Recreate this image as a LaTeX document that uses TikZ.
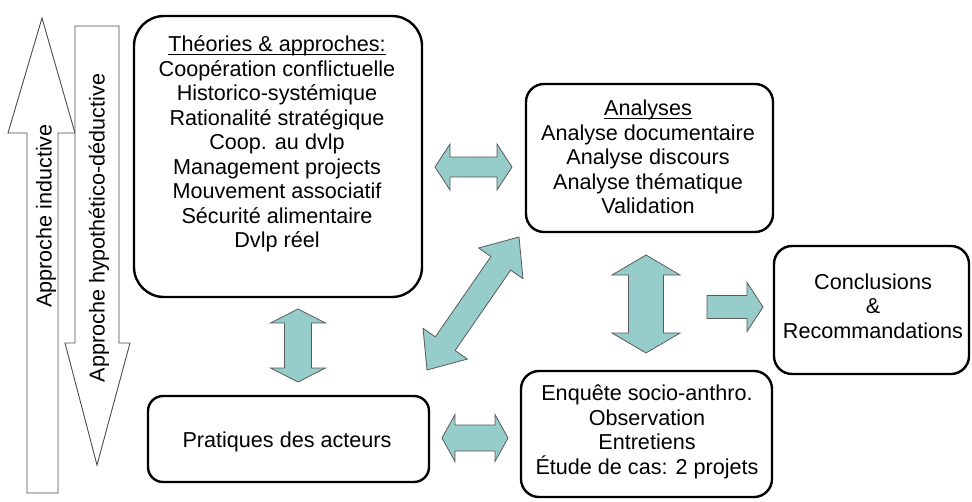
\documentclass[tikz,border=0pt]{standalone}
\usepackage{fontspec}
\setmainfont{Liberation Sans}
\usetikzlibrary{calc}
\definecolor{tealfill}{RGB}{150,204,201}
\definecolor{arrline}{RGB}{90,90,90}
\newcommand\myul[1]{\sbox0{#1}\rlap{\rule[-2.8pt]{\wd0}{0.9pt}}\usebox0}
% double block arrow: #1 tip A, #2 tip B, #3 shaft half width, #4 head half width, #5 head length
\newcommand\dblarrow[5]{%
  \path ($(#1)!#5!(#2)$) coordinate (ha) ($(#2)!#5!(#1)$) coordinate (hb);
  \draw[barrow] (#1) -- ($(ha)!#4!90:(#2)$) -- ($(ha)!#3!90:(#2)$)
    -- ($(hb)!#3!-90:(#1)$) -- ($(hb)!#4!-90:(#1)$) -- (#2)
    -- ($(hb)!#4!90:(#1)$) -- ($(hb)!#3!90:(#1)$)
    -- ($(ha)!#3!-90:(#2)$) -- ($(ha)!#4!-90:(#2)$) -- cycle;}
% single block arrow: #1 tail, #2 tip, #3 shaft half, #4 head half, #5 head length
\newcommand\sglarrow[5]{%
  \path ($(#2)!#5!(#1)$) coordinate (hb);
  \draw[barrow] ($(#1)!#3!90:(#2)$) -- ($(hb)!#3!-90:(#1)$) -- ($(hb)!#4!-90:(#1)$) -- (#2)
    -- ($(hb)!#4!90:(#1)$) -- ($(hb)!#3!90:(#1)$) -- ($(#1)!#3!-90:(#2)$) -- cycle;}
\begin{document}
\begin{tikzpicture}[x=1pt,y=-1pt,
  box/.style={draw, line width=2.4pt, rounded corners=18pt, inner sep=0pt},
  txt/.style={align=center, font=\fontsize{21.6}{24.5}\selectfont, inner sep=0pt},
  barrow/.style={fill=tealfill, draw=arrline, line width=0.8pt, line join=miter},
  bigarrow/.style={draw=black!70, fill=white, line width=0.9pt}]
\useasboundingbox (0,0) rectangle (972,501);

% left big arrows
\draw[bigarrow] (42,18) -- (75,133) -- (58,133) -- (58,493) -- (27,493) -- (27,133) -- (8,133) -- cycle;
\draw[bigarrow] (75,26) -- (119,26) -- (119,343) -- (130,343) -- (97,465) -- (65,343) -- (75,343) -- cycle;
\node[txt, rotate=90] (ind) at (46,216) {Approche inductive};
\node[txt, rotate=90] (hyp) at (99,228) {Approche hypothético-déductive};

% boxes
\node[box, rounded corners=30pt, minimum width=288pt, minimum height=281pt] (theo) at (278,156.5) {};
\node[box, minimum width=247pt, minimum height=148pt] (ana) at (649.5,158) {};
\node[box, minimum width=251pt, minimum height=126pt] (enq) at (646.5,434) {};
\node[box, minimum width=195pt, minimum height=128pt] (concl) at (871.5,310) {};
\node[box, rounded corners=15pt, minimum width=281pt, minimum height=86pt] (prat) at (288.5,439) {};

% texts
\node[txt] (theot) at (277,144) {\myul{Théories \& approches:}\\Coopération conflictuelle\\Historico-systémique\\Rationalité stratégique\\Coop. au dvlp\\Management projects\\Mouvement associatif\\Sécurité alimentaire\\Dvlp réel};
\node[txt] (anat) at (648,157) {\myul{Analyses}\\Analyse documentaire\\Analyse discours\\Analyse thématique\\Validation};
\node[txt] (enqt) at (647,432) {Enquête socio-anthro.\\Observation\\Entretiens\\Étude de cas: 2 projets};
\node[txt] (conclt) at (873,306) {Conclusions\\\&\\Recommandations};
\node[txt] (pratt) at (287,442) {Pratiques des acteurs};

% block arrows
\coordinate (a1) at (435,167); \coordinate (b1) at (512,167);
\dblarrow{a1}{b1}{10pt}{23pt}{15pt}
\coordinate (a2) at (427,370); \coordinate (b2) at (519,237);
\dblarrow{a2}{b2}{12pt}{27pt}{32pt}
\coordinate (a3) at (646,255); \coordinate (b3) at (646,353);
\dblarrow{a3}{b3}{17.5pt}{34pt}{20pt}
\coordinate (a4) at (707,307); \coordinate (b4) at (763,307);
\sglarrow{a4}{b4}{11.5pt}{24.5pt}{16pt}
\coordinate (a5) at (298,309); \coordinate (b5) at (298,382);
\dblarrow{a5}{b5}{13.5pt}{27.5pt}{14pt}
\coordinate (a6) at (442,438); \coordinate (b6) at (508,438);
\dblarrow{a6}{b6}{13pt}{23.5pt}{13pt}
\end{tikzpicture}
\end{document}
